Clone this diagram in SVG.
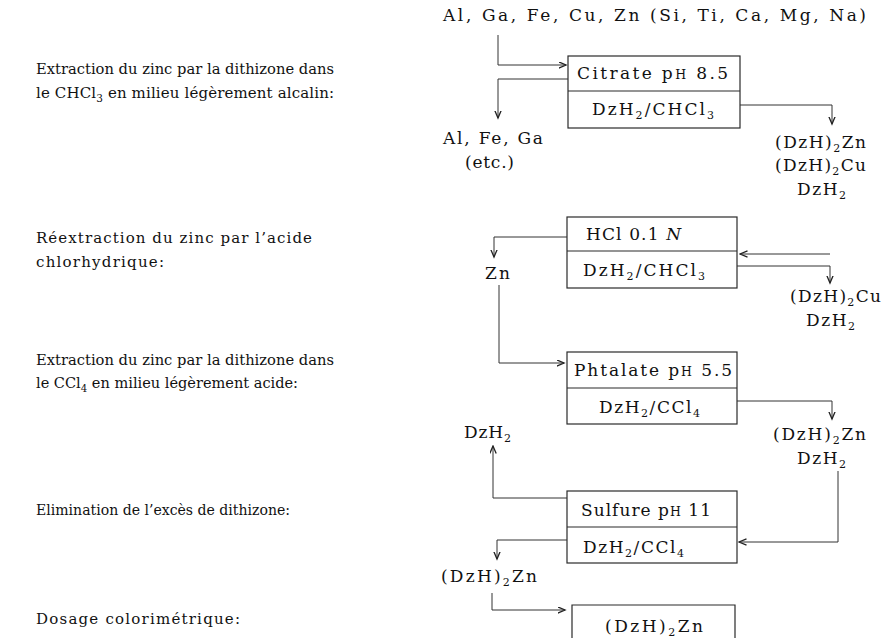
<svg xmlns="http://www.w3.org/2000/svg" width="889" height="638" viewBox="0 0 889 638">
<defs>
<marker id="ah" markerWidth="9" markerHeight="8" refX="7.5" refY="3.5" orient="auto" markerUnits="userSpaceOnUse">
<path d="M0,0.3 L7.5,3.5 L0,6.7" fill="none" stroke="#222" stroke-width="1.3"/>
</marker>
</defs>
<style>
text{fill:#111}
.lab{font-family:"DejaVu Serif","Liberation Serif",serif;font-size:15px}
.t{font-family:"DejaVu Serif","Liberation Serif",serif;font-size:17px}
.box{fill:none;stroke:#2a2a2a;stroke-width:1.2}
.div{stroke:#2a2a2a;stroke-width:1.2}
.c{fill:none;stroke:#333;stroke-width:1;marker-end:url(#ah)}
.s{font-size:11px}
.sl{font-size:10.5px}
.sc{font-size:12.5px}
</style>
<rect width="889" height="638" fill="#fff"/>

<g id="labels">
<text class="lab" x="36" y="74" textLength="298" lengthAdjust="spacingAndGlyphs">Extraction du zinc par la dithizone dans</text>
<text class="lab" x="36" y="98" textLength="298" lengthAdjust="spacing">le CHCl<tspan class="sl" dy="4">3</tspan><tspan dy="-4"> en milieu légèrement alcalin:</tspan></text>
<text class="lab" x="36" y="243" textLength="276" lengthAdjust="spacing">Réextraction du zinc par l’acide</text>
<text class="lab" x="36" y="267" textLength="128" lengthAdjust="spacing">chlorhydrique:</text>
<text class="lab" x="36" y="365" textLength="298" lengthAdjust="spacingAndGlyphs">Extraction du zinc par la dithizone dans</text>
<text class="lab" x="36" y="388" textLength="262" lengthAdjust="spacingAndGlyphs">le CCl<tspan class="sl" dy="4">4</tspan><tspan dy="-4"> en milieu légèrement acide:</tspan></text>
<text class="lab" x="36" y="515" textLength="254" lengthAdjust="spacingAndGlyphs">Elimination de l’excès de dithizone:</text>
<text class="lab" x="36" y="624" textLength="204" lengthAdjust="spacing">Dosage colorimétrique:</text>
</g>

<g id="start">
<text class="t" x="443" y="21" textLength="423" lengthAdjust="spacing">Al, Ga, Fe, Cu, Zn (Si, Ti, Ca, Mg, Na)</text>
</g>

<g id="box-citrate">
<rect class="box" x="568" y="56" width="172" height="72"/>
<line class="div" x1="568" y1="91" x2="740" y2="91"/>
<text class="t" x="577" y="79" textLength="151" lengthAdjust="spacing">Citrate p<tspan class="sc">H</tspan> 8.5</text>
<text class="t" x="592" y="115" textLength="122" lengthAdjust="spacing">DzH<tspan class="s" dy="4">2</tspan><tspan dy="-4">/CHCl</tspan><tspan class="s" dy="4">3</tspan></text>
</g>

<g id="out-alfega">
<text class="t" x="443" y="144" textLength="100" lengthAdjust="spacing">Al, Fe, Ga</text>
<text class="t" x="465" y="168" textLength="49" lengthAdjust="spacing">(etc.)</text>
</g>

<g id="out-org1">
<text class="t" x="775" y="148" textLength="91" lengthAdjust="spacing">(DzH)<tspan class="s" dy="4">2</tspan><tspan dy="-4">Zn</tspan></text>
<text class="t" x="775" y="171" textLength="91" lengthAdjust="spacing">(DzH)<tspan class="s" dy="4">2</tspan><tspan dy="-4">Cu</tspan></text>
<text class="t" x="797" y="195" textLength="49" lengthAdjust="spacing">DzH<tspan class="s" dy="4">2</tspan></text>
</g>

<g id="box-hcl">
<rect class="box" x="567" y="217" width="170" height="71"/>
<line class="div" x1="567" y1="251" x2="737" y2="251"/>
<text class="t" x="586" y="240" textLength="95" lengthAdjust="spacing">HCl 0.1 <tspan font-style="italic">N</tspan></text>
<text class="t" x="583" y="276" textLength="122" lengthAdjust="spacing">DzH<tspan class="s" dy="4">2</tspan><tspan dy="-4">/CHCl</tspan><tspan class="s" dy="4">3</tspan></text>
</g>

<g id="out-zn">
<text class="t" x="485" y="279" textLength="25" lengthAdjust="spacing">Zn</text>
</g>

<g id="out-cu">
<text class="t" x="790" y="302" textLength="91" lengthAdjust="spacing">(DzH)<tspan class="s" dy="4">2</tspan><tspan dy="-4">Cu</tspan></text>
<text class="t" x="806" y="326" textLength="49" lengthAdjust="spacing">DzH<tspan class="s" dy="4">2</tspan></text>
</g>

<g id="box-phtalate">
<rect class="box" x="567" y="352" width="170" height="72"/>
<line class="div" x1="567" y1="388" x2="737" y2="388"/>
<text class="t" x="574" y="376" textLength="158" lengthAdjust="spacing">Phtalate p<tspan class="sc">H</tspan> 5.5</text>
<text class="t" x="599" y="413" textLength="101" lengthAdjust="spacing">DzH<tspan class="s" dy="4">2</tspan><tspan dy="-4">/CCl</tspan><tspan class="s" dy="4">4</tspan></text>
</g>

<g id="out-org3">
<text class="t" x="773" y="440" textLength="93" lengthAdjust="spacing">(DzH)<tspan class="s" dy="4">2</tspan><tspan dy="-4">Zn</tspan></text>
<text class="t" x="797" y="464" textLength="49" lengthAdjust="spacing">DzH<tspan class="s" dy="4">2</tspan></text>
</g>

<g id="out-dzh2">
<text class="t" x="464" y="438" textLength="47" lengthAdjust="spacing">DzH<tspan class="s" dy="4">2</tspan></text>
</g>

<g id="box-sulfure">
<rect class="box" x="567" y="491" width="170" height="72"/>
<line class="div" x1="567" y1="527" x2="737" y2="527"/>
<text class="t" x="581" y="516" textLength="130" lengthAdjust="spacing">Sulfure p<tspan class="sc">H</tspan> 11</text>
<text class="t" x="583" y="553" textLength="101" lengthAdjust="spacing">DzH<tspan class="s" dy="4">2</tspan><tspan dy="-4">/CCl</tspan><tspan class="s" dy="4">4</tspan></text>
</g>

<g id="out-znfinal">
<text class="t" x="441" y="582" textLength="96" lengthAdjust="spacing">(DzH)<tspan class="s" dy="4">2</tspan><tspan dy="-4">Zn</tspan></text>
</g>

<g id="box-dosage">
<path class="box" d="M572,638 V605 H735 V638"/>
<text class="t" x="605" y="632" textLength="98" lengthAdjust="spacing">(DzH)<tspan class="s" dy="4">2</tspan><tspan dy="-4">Zn</tspan></text>
</g>

<g id="connectors">
<polyline class="c" points="498,35 498,65 566,65"/>
<polyline class="c" points="568,79 498,79 498,118"/>
<polyline class="c" points="740,105 832,105 832,124"/>
<polyline class="c" points="567,237 494,237 494,257"/>
<polyline class="c" points="499,285 499,363 564,363"/>
<polyline class="c" points="830,254 740,254"/>
<polyline class="c" points="737,266 830,266 830,283"/>
<polyline class="c" points="737,401 832,401 832,419"/>
<polyline class="c" points="567,498 493,498 493,446"/>
<polyline class="c" points="838,471 838,542 739,542"/>
<polyline class="c" points="567,540 497,540 497,559"/>
<polyline class="c" points="492,593 492,610 565,610"/>
</g>
</svg>
